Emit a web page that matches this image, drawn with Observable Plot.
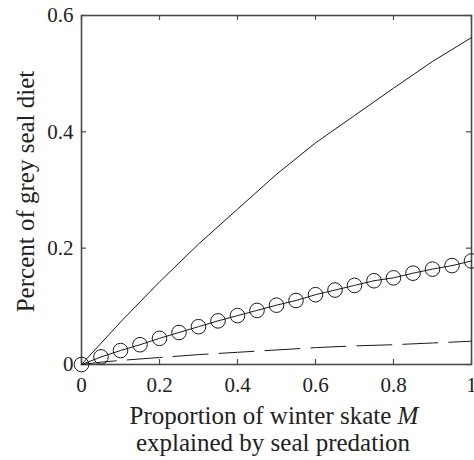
<!DOCTYPE html>
<html>
<head>
<meta charset="utf-8">
<script src="https://cdn.jsdelivr.net/npm/d3@7"></script>
<script src="https://cdn.jsdelivr.net/npm/@observablehq/plot@0.6"></script>
<style>
  html, body { margin: 0; padding: 0; background: #fff; }
  #chart svg { display: block; }
</style>
</head>
<body>
<div id="chart"></div>
<script>
// ---- data ----
const xTicks = [0, 0.2, 0.4, 0.6, 0.8, 1];
const xTickLabels = ["0", "0.2", "0.4", "0.6", "0.8", "1"];
const yTicks = [0, 0.2, 0.4, 0.6];
const yTickLabels = ["0", "0.2", "0.4", "0.6"];

const solidX = [0, 0.1, 0.2, 0.3, 0.4, 0.5, 0.6, 0.7, 0.8, 0.9, 1.0];
const solidY = [0, 0.073, 0.142, 0.207, 0.267, 0.327, 0.381, 0.428, 0.475, 0.521, 0.562];

const circleX = [0, 0.05, 0.1, 0.15, 0.2, 0.25, 0.3, 0.35, 0.4, 0.45, 0.5, 0.55, 0.6, 0.65, 0.7, 0.75, 0.8, 0.85, 0.9, 0.95, 1.0];
const circleY = [0, 0.013, 0.024, 0.034, 0.045, 0.055, 0.065, 0.075, 0.084, 0.093, 0.102, 0.110, 0.120, 0.128, 0.136, 0.144, 0.149, 0.157, 0.164, 0.170, 0.178];

const dashX = [0, 0.05, 0.1, 0.2, 0.3, 0.4, 0.5, 0.6, 0.7, 0.8, 0.9, 1.0];
const dashY = [0, 0.004, 0.007, 0.012, 0.017, 0.021, 0.025, 0.029, 0.032, 0.034, 0.037, 0.040];

const xLabelLine1 = "Proportion of winter skate ";
const xLabelItalic = "M";
const xLabelLine2 = "explained by seal predation";
const yLabel = "Percent of grey seal diet";

// ---- tables ----
const solid = solidX.map((x, i) => ({x, y: solidY[i]}));
const circles = circleX.map((x, i) => ({x, y: circleY[i]}));
const dashed = dashX.map((x, i) => ({x, y: dashY[i]}));

const W = 474, H = 460;
const mL = 81, mR = 3, mT = 15, mB = 96;
const plotW = W - mL - mR, plotH = H - mT - mB;
const tickLen = 5;
const ink = "#1a1a1a";
const frameInk = "#4a4a4a";
const font = "'Liberation Serif', 'Times New Roman', serif";

const chart = Plot.plot({
  width: W,
  height: H,
  marginLeft: mL,
  marginRight: mR,
  marginTop: mT,
  marginBottom: mB,
  style: {fontFamily: font, fontSize: "21px", color: "#222", background: "#fff", overflow: "visible"},
  x: {domain: [0, 1]},
  y: {domain: [0, 0.6]},
  marks: [
    Plot.frame({stroke: frameInk, strokeWidth: 1.6}),
    // inward ticks on all four sides
    Plot.ruleX(xTicks, {insetBottom: plotH - tickLen, stroke: frameInk, strokeWidth: 1.2}),
    Plot.ruleX(xTicks, {insetTop: plotH - tickLen, stroke: frameInk, strokeWidth: 1.2}),
    Plot.ruleY(yTicks, {insetRight: plotW - tickLen, stroke: frameInk, strokeWidth: 1.2}),
    Plot.ruleY(yTicks, {insetLeft: plotW - tickLen, stroke: frameInk, strokeWidth: 1.2}),
    Plot.axisX({ticks: xTicks, tickSize: 0, tickPadding: 13, fontSize: 21, label: null,
      tickFormat: d => xTickLabels[xTicks.indexOf(d)]}),
    Plot.axisY({ticks: yTicks, tickSize: 0, tickPadding: 8, fontSize: 21, label: null,
      tickFormat: d => yTickLabels[yTicks.indexOf(d)]}),
    Plot.line(dashed, {x: "x", y: "y", stroke: ink, strokeWidth: 1, strokeDasharray: "35,11"}),
    Plot.line(solid, {x: "x", y: "y", stroke: ink, strokeWidth: 1}),
    Plot.line(circles, {x: "x", y: "y", stroke: ink, strokeWidth: 1}),
    Plot.dot(circles, {x: "x", y: "y", r: 7.3, stroke: ink, strokeWidth: 1, fill: "none"})
  ]
});

document.getElementById("chart").appendChild(chart);

// axis titles (with italic M) added as real SVG text
const svg = d3.select(chart);
const cx = mL + plotW / 2;
const t1 = svg.append("text")
  .attr("x", cx - 2).attr("y", 424)
  .attr("text-anchor", "middle")
  .attr("font-family", font).attr("font-size", 25).attr("fill", "#222");
t1.append("tspan").text(xLabelLine1);
t1.append("tspan").attr("font-style", "italic").text(xLabelItalic);
svg.append("text")
  .attr("x", cx - 3).attr("y", 451)
  .attr("text-anchor", "middle")
  .attr("font-family", font).attr("font-size", 25).attr("fill", "#222")
  .text(xLabelLine2);
svg.append("text")
  .attr("transform", `translate(34,${mT + plotH / 2 + 2}) rotate(-90)`)
  .attr("text-anchor", "middle")
  .attr("font-family", font).attr("font-size", 25).attr("fill", "#222")
  .text(yLabel);
</script>
</body>
</html>
